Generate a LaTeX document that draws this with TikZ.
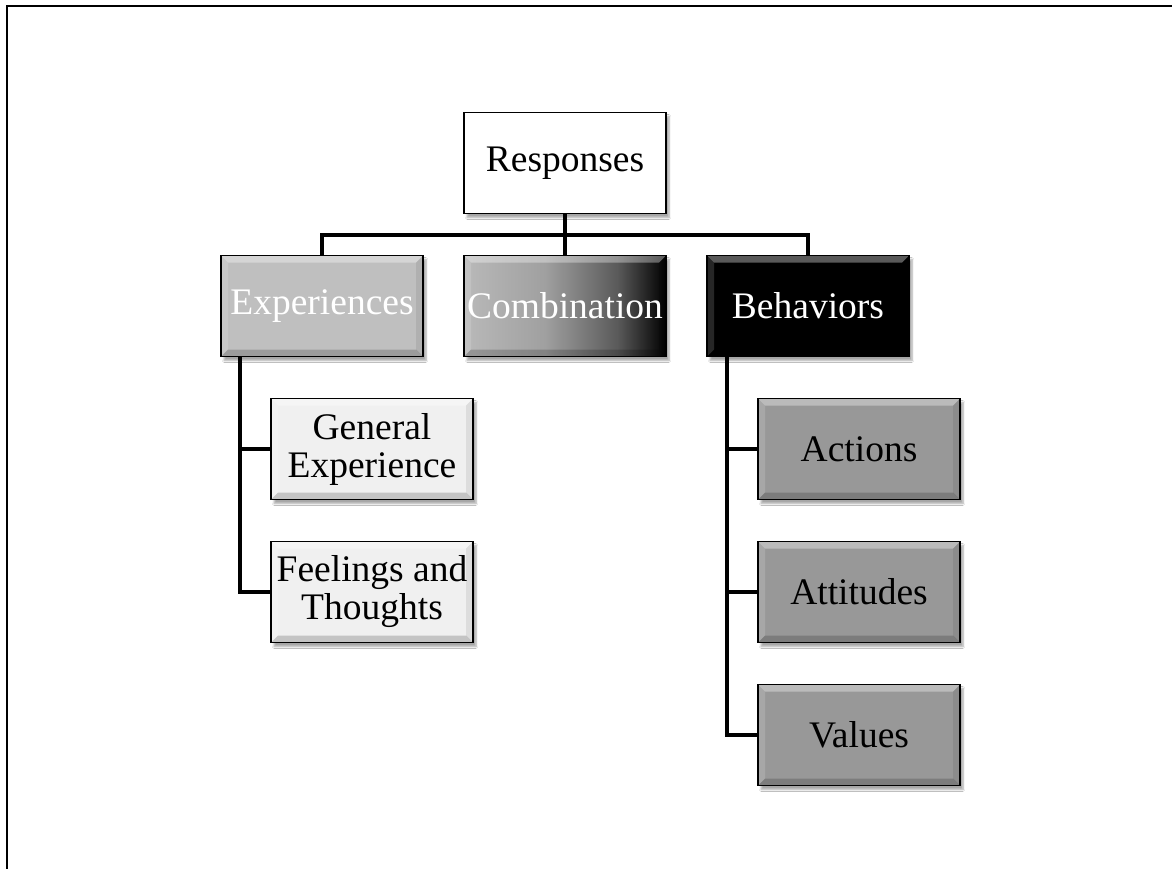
\documentclass[tikz,border=0pt]{standalone}
\usepackage{fontspec}
\setmainfont{Liberation Serif}
\usetikzlibrary{shadows.blur}
\definecolor{expgray}{RGB}{191,191,191}
\definecolor{lightbox}{RGB}{240,240,240}
\definecolor{midbox}{RGB}{152,152,152}
\definecolor{combA}{RGB}{185,185,185}
\definecolor{combB}{RGB}{160,160,160}
\definecolor{combC}{RGB}{90,90,90}
\pgfdeclarehorizontalshading{combshade}{100bp}{color(0bp)=(combA); color(25bp)=(combA); color(45bp)=(combB); color(63bp)=(combC); color(75bp)=(black); color(100bp)=(black)}
\tikzset{
  bevel/.style={path picture={
    \fill[white,fill opacity=0.35] (path picture bounding box.north west) -- (path picture bounding box.north east) -- ([xshift=-7pt,yshift=-7pt]path picture bounding box.north east) -- ([xshift=7pt,yshift=-7pt]path picture bounding box.north west) -- cycle;
    \fill[white,fill opacity=0.15] (path picture bounding box.north west) -- ([xshift=7pt,yshift=-7pt]path picture bounding box.north west) -- ([xshift=7pt,yshift=7pt]path picture bounding box.south west) -- (path picture bounding box.south west) -- cycle;
    \fill[black,fill opacity=0.08] (path picture bounding box.north east) -- ([xshift=-7pt,yshift=-7pt]path picture bounding box.north east) -- ([xshift=-7pt,yshift=7pt]path picture bounding box.south east) -- (path picture bounding box.south east) -- cycle;
    \fill[black,fill opacity=0.18] (path picture bounding box.south west) -- (path picture bounding box.south east) -- ([xshift=-7pt,yshift=7pt]path picture bounding box.south east) -- ([xshift=7pt,yshift=7pt]path picture bounding box.south west) -- cycle;
  }},
  box/.style={draw=black, line width=1.8pt, minimum width=202pt, minimum height=101pt,
    inner sep=0pt, align=center, font=\fontsize{37.5}{38}\selectfont,
    blur shadow={shadow xshift=3pt, shadow yshift=-4pt, shadow blur steps=6, shadow opacity=35}},
  conn/.style={line width=4pt, draw=black},
}
\begin{document}
\begin{tikzpicture}[x=1pt,y=-1pt]
\useasboundingbox (0,0) rectangle (1172,869);
\fill[white] (0,0) rectangle (1172,869);
\draw[line width=2pt] (7,869) -- (7,6) -- (1172,6);

\node[box, fill=white] (resp) at (565,163) {Responses};
\node[box, fill=expgray, bevel, text=white] (exp) at (322,306) {Experiences};
\node[box, shading=combshade, bevel, text=white] (comb) at (565,306) {Combination};
\node[box, fill=black, bevel, text=white] (beh) at (808,306) {Behaviors};

\node[box, fill=lightbox, bevel] (ge) at (372,449) {General\\Experience};
\node[box, fill=lightbox, bevel] (ft) at (372,592) {Feelings and\\Thoughts};

\node[box, fill=midbox, bevel] (act) at (859,449) {Actions};
\node[box, fill=midbox, bevel] (att) at (859,592) {Attitudes};
\node[box, fill=midbox, bevel] (val) at (859,735) {Values};

\coordinate (bus) at (565,235);
\draw[conn] (resp.south) -- (comb.north);
\draw[conn] (exp.north) |- (bus) -| (beh.north);
\draw[conn] ([xshift=20pt]exp.south west) |- (ge.west);
\draw[conn] ([xshift=20pt]exp.south west) |- (ft.west);
\draw[conn] ([xshift=21pt]beh.south west) |- (act.west);
\draw[conn] ([xshift=21pt]beh.south west) |- (att.west);
\draw[conn] ([xshift=21pt]beh.south west) |- (val.west);
\end{tikzpicture}
\end{document}
